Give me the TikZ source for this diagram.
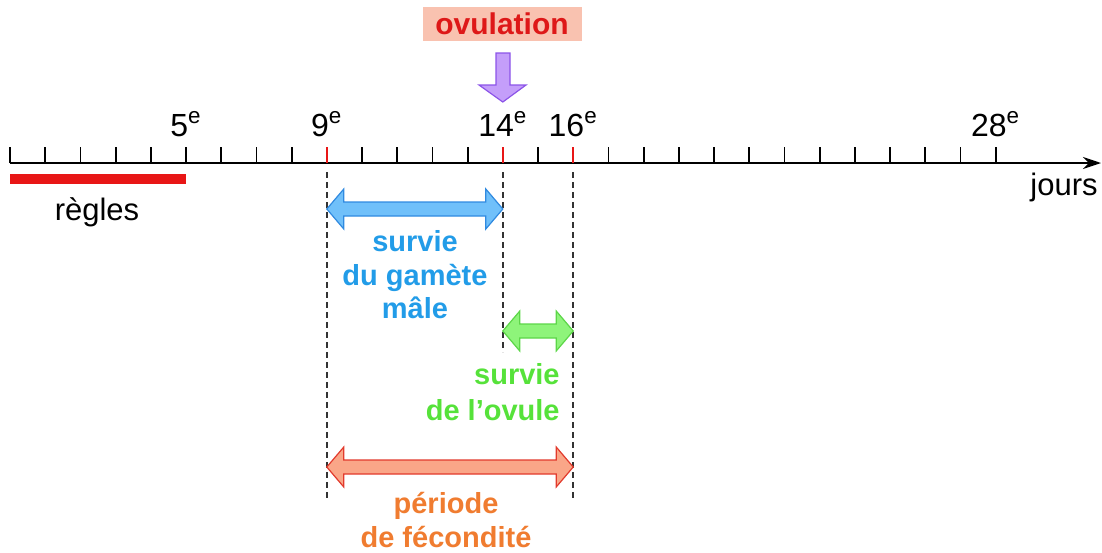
\documentclass[tikz,border=0pt]{standalone}
\usepackage{fontspec}
\setmainfont{Liberation Sans}
\usetikzlibrary{arrows.meta,calc,positioning}

\definecolor{regred}{RGB}{232,22,22}
\definecolor{ovulfill}{RGB}{249,194,176}
\definecolor{ovultext}{RGB}{222,24,24}
\definecolor{purfill}{RGB}{196,158,250}
\definecolor{purdraw}{RGB}{140,84,232}
\definecolor{malefill}{RGB}{112,192,250}
\definecolor{maledraw}{RGB}{48,138,224}
\definecolor{maletext}{RGB}{34,156,232}
\definecolor{ovofill}{RGB}{142,244,122}
\definecolor{ovodraw}{RGB}{92,214,72}
\definecolor{ovotext}{RGB}{86,226,58}
\definecolor{fecfill}{RGB}{250,166,136}
\definecolor{fecdraw}{RGB}{226,58,44}
\definecolor{fectext}{RGB}{240,124,48}

\tikzset{
  daylabel/.style={anchor=base,inner sep=0pt,font=\fontsize{16}{19}\selectfont},
  plain/.style={anchor=base,inner sep=0pt,font=\fontsize{15.5}{18}\selectfont},
  legend/.style={inner sep=0pt,font=\bfseries\fontsize{14.5}{16.8}\selectfont},
  guide/.style={draw=black!80,line width=0.75pt,dash pattern=on 3pt off 2pt},
  tickmark/.style={line width=0.9pt}
}

% fat double arrow between two named points
\newcommand{\fatdouble}[3]{%
  \draw[#1,line width=0.6pt,line join=miter]
    (#2) -- ++(17,-20) -- ++(0,13) -- ($(#3)+(-17,-7)$) -- ++(0,-13)
    -- (#3) -- ++(-17,20) -- ++(0,-13) -- ($(#2)+(17,7)$) -- ++(0,13) -- cycle;
}

\begin{document}
\begin{tikzpicture}[x=0.5pt,y=-0.5pt]
    \useasboundingbox (0,0) rectangle (1102,552);
    % axis of days
    \foreach \d in {0,...,28}
      \coordinate (t\d) at ({10+35.2*\d},163);
    \draw[line width=1pt,-{Stealth[length=9pt,width=6pt]}] (t0) -- (1101,163) coordinate (axisend);
    \foreach \d in {0,...,28}
      \draw[tickmark] (t\d) -- ++(0,-16);
    \foreach \d in {9,14,16}
      \draw[tickmark,regred] (t\d) -- ++(0,-16);
    \foreach \d in {5,9,14,16,28}
      \node[daylabel] (lab\d) at (t\d |- 0,136) {\d\textsuperscript{e}};
    \node[plain,anchor=base east] (jours) at (1098,195) {jours};
    % menstruation
    \fill[regred] (t0 |- 0,174) rectangle (t5 |- 0,184);
    \node[plain] (regles) at (97,220) {règles};
    % ovulation
    \node[fill=ovulfill,minimum width=79.5pt,minimum height=17pt,inner sep=0pt,
          text=ovultext,font=\bfseries\fontsize{15}{18}\selectfont] (ovul) at (502,24) {ovulation};
    \draw[fill=purfill,draw=purdraw,line width=0.6pt]
      (496,53) -- (510,53) -- (510,85) -- (526,85) -- (t14 |- 0,102)
      -- (479,85) -- (496,85) -- cycle;
    % guides
    \draw[guide] (t9 |- 0,172) -- (t9 |- 0,500);
    \draw[guide] (t14 |- 0,172) -- (t14 |- 0,352);
    \draw[guide] (t16 |- 0,172) -- (t16 |- 0,500);
    % survival spans
    \coordinate (male9) at (t9 |- 0,209);
    \coordinate (male14) at (t14 |- 0,209);
    \coordinate (ovo14) at (t14 |- 0,331);
    \coordinate (ovo16) at (t16 |- 0,331);
    \coordinate (fec9) at (t9 |- 0,467);
    \coordinate (fec16) at (t16 |- 0,467);
    \fatdouble{fill=malefill,draw=maledraw}{male9}{male14}
    \fatdouble{fill=ovofill,draw=ovodraw}{ovo14}{ovo16}
    \fatdouble{fill=fecfill,draw=fecdraw}{fec9}{fec16}
    \node[legend,text=maletext,align=center,anchor=north] (male) at (415,230)
      {survie\\du gamète\\mâle};
    \node[legend,text=ovotext,align=right,anchor=north east,
          font=\bfseries\fontsize{14.5}{18}\selectfont] (ovo) at (560,363)
      {survie\\de l’ovule};
    \node[legend,text=fectext,align=center,anchor=north] (fec) at (446,492)
      {période\\de fécondité};
  \end{tikzpicture}
\end{document}
